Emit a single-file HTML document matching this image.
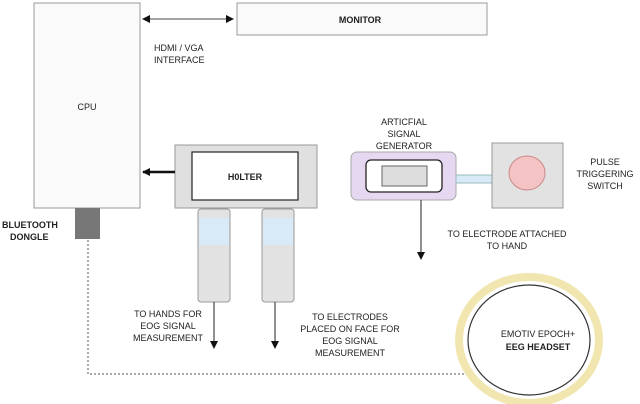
<html><body style="margin:0;background:#fff">
<svg width="640" height="404" xmlns="http://www.w3.org/2000/svg" font-family="Liberation Sans, sans-serif" font-size="9" fill="#222">
<defs><marker id="a" markerWidth="8" markerHeight="8" refX="7" refY="4" orient="auto" markerUnits="userSpaceOnUse"><path d="M0,0L8,4L0,8z" fill="#111"/></marker>
<marker id="b" markerWidth="8" markerHeight="8" refX="1" refY="4" orient="auto" markerUnits="userSpaceOnUse"><path d="M8,0L0,4L8,8z" fill="#111"/></marker></defs>
<rect x="34" y="3" width="106" height="205" fill="#fafafa" stroke="#999"/>
<text x="87" y="110" text-anchor="middle">CPU</text>
<rect x="237" y="3" width="250" height="32" fill="#fafafa" stroke="#999"/>
<text x="360" y="23" text-anchor="middle" font-weight="bold">MONITOR</text>
<line x1="143" y1="19" x2="233" y2="19" stroke="#444" marker-start="url(#b)" marker-end="url(#a)"/>
<text x="154" y="51">HDMI / VGA</text><text x="154" y="63">INTERFACE</text>
<rect x="175" y="145" width="142" height="63" fill="#e0e0e0" stroke="#999"/>
<rect x="192" y="152" width="106" height="48" fill="#fff" stroke="#222" stroke-width="1.2"/>
<text x="245" y="180" text-anchor="middle" font-weight="bold">H0LTER</text>
<line x1="175" y1="172" x2="143" y2="172" stroke="#111" stroke-width="2.5" marker-end="url(#a)"/>
<rect x="75" y="208" width="25" height="31" fill="#777"/>
<text x="2" y="228" font-weight="bold">BLUETOOTH</text><text x="10" y="240" font-weight="bold">DONGLE</text>
<path d="M88 240V374H470" fill="none" stroke="#555" stroke-dasharray="2,2"/>
<g stroke="#999" fill="#e2e2e2">
<rect x="198" y="209" width="32" height="93" rx="3"/><rect x="262" y="209" width="32" height="93" rx="3"/></g>
<rect x="199" y="218" width="30" height="27" fill="#d8eaf8"/><rect x="263" y="218" width="30" height="27" fill="#d8eaf8"/>
<line x1="214" y1="302" x2="214" y2="348" stroke="#222" marker-end="url(#a)"/>
<line x1="275" y1="302" x2="275" y2="348" stroke="#222" marker-end="url(#a)"/>
<g text-anchor="middle"><text x="168" y="317">TO HANDS FOR</text><text x="168" y="329">EOG SIGNAL</text><text x="168" y="341">MEASUREMENT</text>
<text x="350" y="320">TO ELECTRODES</text><text x="350" y="332">PLACED ON FACE FOR</text><text x="350" y="344">EOG SIGNAL</text><text x="350" y="356">MEASUREMENT</text>
<text x="404" y="125">ARTICFIAL</text><text x="404" y="137">SIGNAL</text><text x="404" y="149">GENERATOR</text>
<text x="605" y="165">PULSE</text><text x="605" y="177">TRIGGERING</text><text x="605" y="189">SWITCH</text>
<text x="507" y="237">TO ELECTRODE ATTACHED</text><text x="507" y="249">TO HAND</text></g>
<rect x="351" y="152" width="105" height="48" rx="6" fill="#e6d8f0" stroke="#aaa"/>
<rect x="366" y="160" width="76" height="32" rx="5" fill="#fff" stroke="#222" stroke-width="1.3"/>
<rect x="382" y="166" width="45" height="20" fill="#ddd" stroke="#666"/>
<rect x="456" y="175" width="36" height="8" fill="#d8eaf8" stroke="#9bb"/>
<rect x="492" y="143" width="71" height="65" fill="#e2e2e2" stroke="#999"/>
<ellipse cx="527" cy="173" rx="18" ry="17" fill="#f4c4c4" stroke="#c88"/>
<line x1="421" y1="200" x2="421" y2="259" stroke="#222" marker-end="url(#a)"/>
<ellipse cx="529" cy="340" rx="70" ry="63" fill="#fff" stroke="#f2e6b0" stroke-width="8"/>
<ellipse cx="529" cy="340" rx="61" ry="55" fill="#fff" stroke="#333" stroke-width="1.2"/>
<text x="538" y="337" text-anchor="middle">EMOTIV EPOCH+</text>
<text x="538" y="350" text-anchor="middle" font-weight="bold">EEG HEADSET</text>
</svg></body></html>
